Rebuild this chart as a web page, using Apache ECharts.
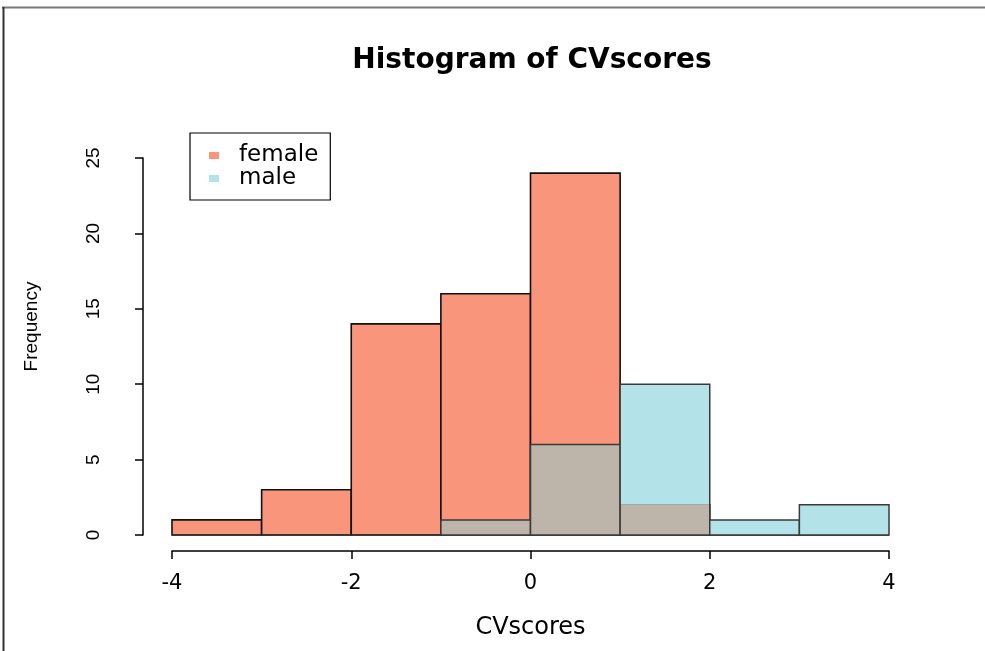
<!DOCTYPE html>
<html>
<head>
<meta charset="utf-8">
<script src="https://cdn.jsdelivr.net/npm/echarts@6/dist/echarts.min.js"></script>
<style>
html,body{margin:0;padding:0;background:#fff;}
#chart{width:985px;height:651px;}
</style>
</head>
<body>
<div id="chart"></div>
<script>
// ---- data ----
const binEdges = [-4, -3, -2, -1, 0, 1, 2, 3, 4];
const femaleCounts = [1, 3, 14, 16, 24, 2, 0, 0];
const maleCounts = [0, 0, 0, 1, 6, 10, 1, 2];
const xTicks = [-4, -2, 0, 2, 4];
const yTicks = [0, 5, 10, 15, 20, 25];
const seriesNames = ['female', 'male'];
const titleText = 'Histogram of CVscores';
const xLabel = 'CVscores';
const yLabel = 'Frequency';

const FEMALE = '#F9957B';
const MALE = '#B4E2E9';
const OVERLAP = '#BDB4AA';

const femaleData = femaleCounts.map((c, i) => [binEdges[i], binEdges[i + 1], c]);
const maleData = maleCounts.map((c, i) => [binEdges[i], binEdges[i + 1], c, femaleCounts[i]]);

function rectBetween(api, x0, x1, yTop, yBot) {
  const a = api.coord([x0, yTop]);
  const b = api.coord([x1, yBot]);
  return { x: a[0], y: a[1], width: b[0] - a[0], height: b[1] - a[1] };
}

const SANS = '"Liberation Sans", Arial, sans-serif';

const chart = echarts.init(document.getElementById('chart'), null, { renderer: 'canvas' });
chart.setOption({
  backgroundColor: '#ffffff',
  animation: false,
  title: {
    text: titleText,
    left: 527,
    textAlign: 'center',
    top: 42,
    textStyle: { fontFamily: 'DejaVu Sans', fontWeight: 'bold', fontSize: 28, color: '#000' }
  },
  legend: {
    orient: 'vertical',
    left: 190,
    top: 133,
    data: seriesNames,
    icon: 'rect',
    itemWidth: 10,
    itemHeight: 7,
    itemGap: 0,
    padding: [11, 12, 10, 19],
    borderColor: '#000',
    borderWidth: 1.2,
    borderRadius: 0,
    itemStyle: { borderWidth: 0 },
    textStyle: { fontFamily: 'DejaVu Sans', fontSize: 23, color: '#000', lineHeight: 22, padding: [0, 0, 0, 15] }
  },
  grid: { left: 172, right: 96, top: 158, bottom: 116, containLabel: false },
  xAxis: {
    type: 'value',
    min: -4, max: 4, interval: 2,
    offset: 16,
    name: xLabel,
    nameLocation: 'middle',
    nameGap: 65,
    nameTextStyle: { fontFamily: 'DejaVu Sans', fontSize: 24, color: '#000' },
    axisLine: { show: true, onZero: false, lineStyle: { color: '#000', width: 1.5 } },
    axisTick: { show: true, length: 8, lineStyle: { color: '#000', width: 1.5 } },
    axisLabel: {
      margin: 22, fontFamily: 'DejaVu Sans', fontSize: 21, color: '#000',
      formatter: v => xTicks.includes(v) ? String(v) : ''
    },
    splitLine: { show: false }
  },
  yAxis: {
    type: 'value',
    min: 0, max: 25, interval: 5,
    offset: 29,
    name: yLabel,
    nameLocation: 'middle',
    nameGap: 102,
    nameRotate: 90,
    nameTextStyle: { fontFamily: SANS, fontSize: 19, color: '#000', padding: [0, 0, 0, 40] },
    axisLine: { show: true, onZero: false, lineStyle: { color: '#000', width: 1.5 } },
    axisTick: { show: true, length: 8, lineStyle: { color: '#000', width: 1.5 } },
    axisLabel: {
      rotate: 90, margin: 40, fontFamily: SANS, fontSize: 19, color: '#000',
      formatter: v => yTicks.includes(v) ? String(v) : ''
    },
    splitLine: { show: false }
  },
  series: [
    {
      name: seriesNames[0],
      type: 'custom',
      data: femaleData,
      encode: { x: [0, 1], y: 2 },
      itemStyle: { color: FEMALE },
      clip: false,
      renderItem: function (params, api) {
        const x0 = api.value(0), x1 = api.value(1), v = api.value(2);
        const r = rectBetween(api, x0, x1, v, 0);
        if (v === 0) {
          return { type: 'line', shape: { x1: r.x, y1: r.y, x2: r.x + r.width, y2: r.y }, style: { stroke: '#111', lineWidth: 1.6 } };
        }
        return { type: 'rect', shape: r, style: { fill: FEMALE, stroke: '#111', lineWidth: 1.6 } };
      }
    },
    {
      name: seriesNames[1],
      type: 'custom',
      data: maleData,
      encode: { x: [0, 1], y: 2 },
      itemStyle: { color: MALE },
      clip: false,
      renderItem: function (params, api) {
        const x0 = api.value(0), x1 = api.value(1), v = api.value(2), f = api.value(3);
        const children = [];
        const ov = Math.min(v, f);
        if (v > ov) {
          children.push({ type: 'rect', shape: rectBetween(api, x0, x1, v, ov), style: { fill: MALE } });
        }
        if (ov > 0) {
          children.push({ type: 'rect', shape: rectBetween(api, x0, x1, ov, 0), style: { fill: OVERLAP } });
        }
        const r = rectBetween(api, x0, x1, v, 0);
        if (v === 0) {
          children.push({ type: 'line', shape: { x1: r.x, y1: r.y, x2: r.x + r.width, y2: r.y }, style: { stroke: '#333', lineWidth: 1.5 } });
        } else {
          children.push({ type: 'rect', shape: r, style: { fill: null, stroke: '#3a3a3a', lineWidth: 1.5 } });
        }
        return { type: 'group', children: children };
      }
    }
  ],
  graphic: [
    { type: 'line', shape: { x1: 2, y1: 7.5, x2: 985, y2: 7.5 }, style: { stroke: '#7a7a7a', lineWidth: 2 }, silent: true },
    { type: 'line', shape: { x1: 3.5, y1: 7, x2: 3.5, y2: 651 }, style: { stroke: '#333', lineWidth: 2 }, silent: true }
  ]
});
</script>
</body>
</html>
